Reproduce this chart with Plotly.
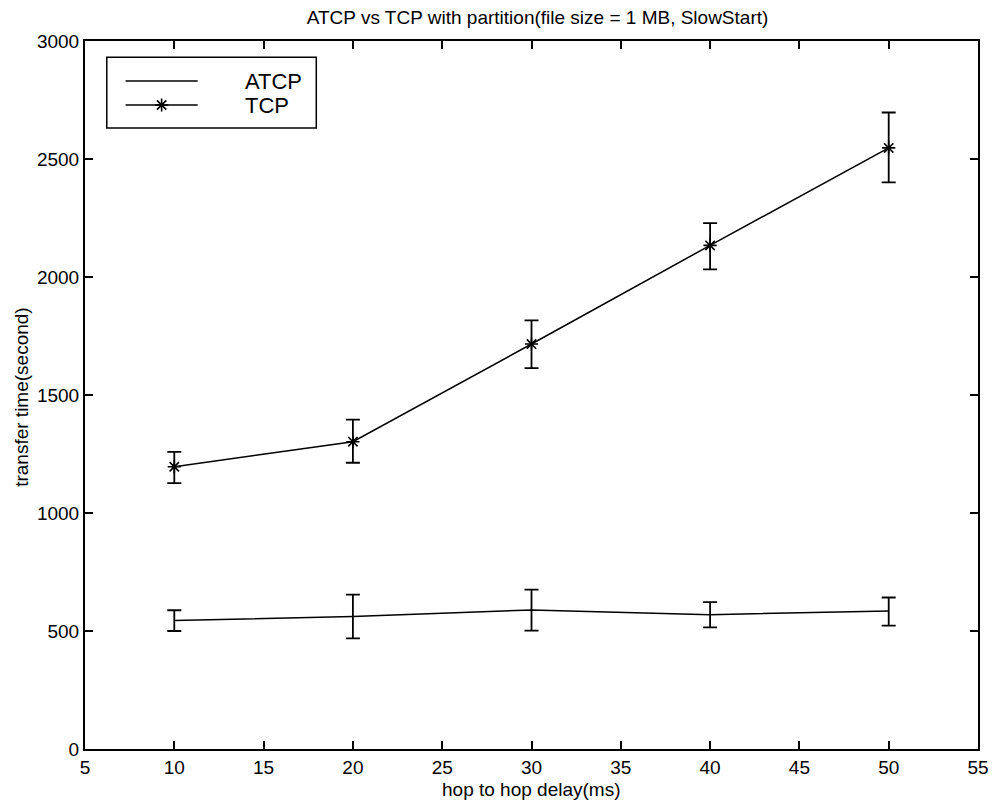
import plotly.graph_objects as go

# ---- data ----
delay_ms = [10, 20, 30, 40, 50]

atcp_mean = [545, 561, 589, 569, 585]
atcp_high = [588, 654, 675, 622, 642]
atcp_low = [500, 469, 502, 515, 523]

tcp_mean = [1196, 1302, 1716, 2134, 2547]
tcp_high = [1259, 1396, 1816, 2228, 2697]
tcp_low = [1127, 1213, 1614, 2032, 2401]

x_ticks = [5, 10, 15, 20, 25, 30, 35, 40, 45, 50, 55]
y_ticks = [0, 500, 1000, 1500, 2000, 2500, 3000]

series_names = ["ATCP", "TCP"]

FONT = "Liberation Sans, Arial, Helvetica, sans-serif"
FS = 19

def err_plus(mean, high):
    return [h - m for m, h in zip(mean, high)]

def err_minus(mean, low):
    return [m - l for m, l in zip(mean, low)]

fig = go.Figure()

fig.add_trace(go.Scatter(
    x=delay_ms, y=atcp_mean, mode="lines", name=series_names[0],
    line=dict(color="black", width=1.5),
    error_y=dict(type="data", symmetric=False,
                 array=err_plus(atcp_mean, atcp_high),
                 arrayminus=err_minus(atcp_mean, atcp_low),
                 color="black", thickness=1.8, width=7),
    showlegend=False,
))

fig.add_trace(go.Scatter(
    x=delay_ms, y=tcp_mean, mode="lines+markers", name=series_names[1],
    line=dict(color="black", width=1.5),
    marker=dict(symbol="asterisk-open", size=11, color="black",
                line=dict(color="black", width=1.6)),
    error_y=dict(type="data", symmetric=False,
                 array=err_plus(tcp_mean, tcp_high),
                 arrayminus=err_minus(tcp_mean, tcp_low),
                 color="black", thickness=1.8, width=7),
    showlegend=False,
))

# ---- hand-drawn legend (MATLAB style) ----
box = dict(x0=0.0244, x1=0.259, y0=0.877, y1=0.977)
line_x0, line_x1 = 0.0454, 0.1262
row_y = [0.9435, 0.9096]
text_x = 0.177

shapes = [dict(type="rect", xref="paper", yref="paper", **box,
               line=dict(color="black", width=1.5), fillcolor="white", layer="below")]
for yy in row_y:
    shapes.append(dict(type="line", xref="paper", yref="paper",
                       x0=line_x0, x1=line_x1, y0=yy, y1=yy,
                       line=dict(color="black", width=1.5), layer="above"))

annotations = []
for name, yy in zip(series_names, row_y):
    annotations.append(dict(xref="paper", yref="paper", x=text_x, y=yy,
                            text=name, showarrow=False, xanchor="left",
                            yanchor="middle",
                            font=dict(family=FONT, size=22, color="black")))

# axis titles
annotations.append(dict(xref="paper", yref="paper", x=0.5, y=-0.0565,
                        text="hop to hop delay(ms)", showarrow=False,
                        xanchor="center", yanchor="middle",
                        font=dict(family=FONT, size=FS, color="black")))
annotations.append(dict(xref="paper", yref="paper", x=-0.072, y=0.497,
                        text="transfer time(second)", showarrow=False,
                        textangle=-90, xanchor="center", yanchor="middle",
                        font=dict(family=FONT, size=FS, color="black")))

# star marker in legend on an overlay axis in paper fractions
fig.add_trace(go.Scatter(
    x=[(line_x0 + line_x1) / 2], y=[row_y[1]], mode="markers",
    marker=dict(symbol="asterisk-open", size=11, color="black",
                line=dict(color="black", width=1.6)),
    xaxis="x2", yaxis="y2", showlegend=False, hoverinfo="skip",
))

axis_common = dict(
    showgrid=False, zeroline=False, showline=True, linecolor="black",
    linewidth=2, mirror="ticks", ticks="inside", ticklen=8, tickwidth=1.5,
    tickcolor="black", tickfont=dict(family=FONT, size=FS, color="black"),
)

fig.update_layout(
    width=1001, height=802,
    margin=dict(l=85, r=13, t=41, b=53),
    paper_bgcolor="white", plot_bgcolor="white",
    title=dict(text="ATCP vs TCP with partition(file size = 1 MB, SlowStart)",
               x=0.537, xanchor="center", y=0.978, yanchor="middle",
               font=dict(family=FONT, size=FS, color="black")),
    xaxis=dict(range=[5, 55], tickvals=x_ticks, **axis_common),
    yaxis=dict(range=[0, 3000], tickvals=y_ticks, **axis_common),
    xaxis2=dict(overlaying="x", range=[0, 1], visible=False, fixedrange=True),
    yaxis2=dict(overlaying="y", range=[0, 1], visible=False, fixedrange=True),
    shapes=shapes,
    annotations=annotations,
)

fig.write_html(
    "out.html",
    config={"displayModeBar": False},
    post_script="document.body.style.margin='0px';"
                "document.body.style.overflow='hidden';",
)
